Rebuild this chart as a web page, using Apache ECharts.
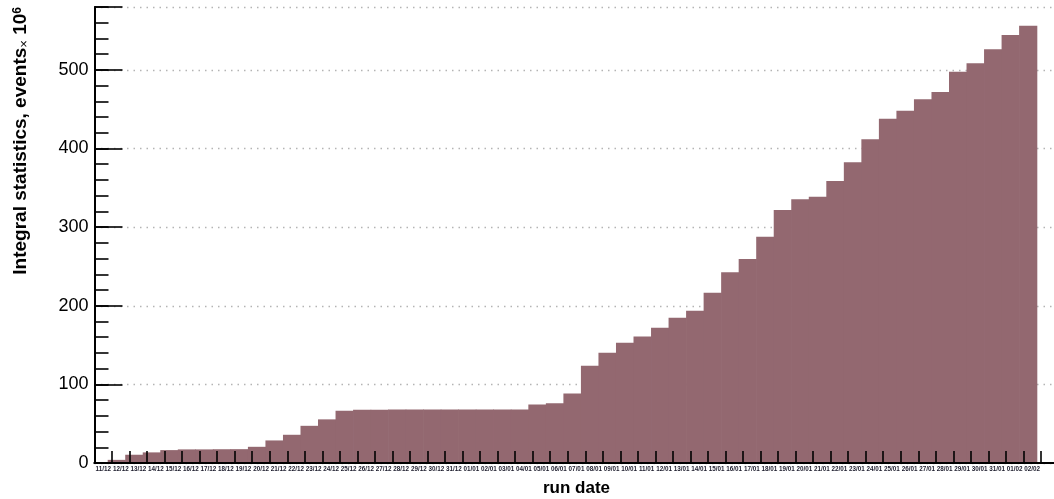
<!DOCTYPE html>
<html>
<head>
<meta charset="utf-8">
<script src="https://cdn.jsdelivr.net/npm/echarts@6/dist/echarts.min.js"></script>
<style>
  html, body { margin: 0; padding: 0; background: #ffffff; }
  #chart { width: 1054px; height: 499px; }
</style>
</head>
<body>
<div id="chart"></div>
<script>
// Run dates (one bin per day)
const runDates = [
  '11/12', '12/12', '13/12', '14/12', '15/12', '16/12', '17/12', '18/12', '19/12', '20/12',
  '21/12', '22/12', '23/12', '24/12', '25/12', '26/12', '27/12', '28/12', '29/12', '30/12',
  '31/12', '01/01', '02/01', '03/01', '04/01', '05/01', '06/01', '07/01', '08/01', '09/01',
  '10/01', '11/01', '12/01', '13/01', '14/01', '15/01', '16/01', '17/01', '18/01', '19/01',
  '20/01', '21/01', '22/01', '23/01', '24/01', '25/01', '26/01', '27/01', '28/01', '29/01',
  '30/01', '31/01', '01/02', '02/02'
];

// Cumulative number of events, in units of 10^6
const integralEvents = [
  0, 4, 10.5, 13.5, 16.4, 17.3, 17.3, 17.5, 17.6, 20.6,
  28.7, 35.9, 47.3, 55.5, 66.4, 67.7, 67.8, 67.9, 67.9, 68,
  68, 68, 68.1, 68.1, 68.1, 74.5, 76, 88.5, 123.7, 140.2,
  152.9, 161, 172, 184.7, 193.6, 216.5, 242.5, 259.4, 287.8, 321.8,
  335.4, 338.7, 358.7, 382.4, 411.7, 438, 448, 462.6, 471.9, 497.7,
  508.4, 526.2, 544.4, 556.2
];

// Y axis range and tick spacing
const yMin = 0;
const yMax = 580;
const yMajorStep = 100;
const yMinorStep = 20;

const axisTitleY = 'Integral statistics, events';
const axisTitleX = 'run date';

const barColor = '#936870';

const chart = echarts.init(document.getElementById('chart'), null, { renderer: 'canvas' });

// frame grid (axes, ticks, labels) and histogram grid (bins drawn slightly left of the ticks)
const frameGrid = { left: 94.5, top: 7, width: 964, height: 456, containLabel: false, outerBoundsMode: 'none' };
const histGrid = { left: 90.5, top: 7, width: 964, height: 456, containLabel: false, outerBoundsMode: 'none' };

const tickLine = { color: '#000000', width: 1.6 };

const option = {
  animation: false,
  backgroundColor: '#ffffff',
  grid: [frameGrid, histGrid],
  xAxis: [
    {
      gridIndex: 0,
      type: 'category',
      data: runDates,
      max: runDates.length,
      boundaryGap: true,
      position: 'bottom',
      zlevel: 1,
      z: 5,
      name: axisTitleX,
      nameLocation: 'middle',
      nameGap: 17,
      nameTextStyle: {
        fontFamily: 'Liberation Sans',
        fontWeight: 'bold',
        fontSize: 17,
        color: '#000000'
      },
      axisLine: { show: true, lineStyle: { color: '#000000', width: 2 } },
      axisTick: { show: true, inside: true, length: 12, interval: 0, lineStyle: tickLine },
      axisLabel: {
        interval: 0,
        hideOverlap: false,
        margin: 3,
        fontFamily: 'Liberation Sans',
        fontWeight: 'bold',
        fontSize: 6.3,
        color: '#1c1c2c',
        formatter: function (v) { return runDates.indexOf(v) >= 0 ? v : ''; }
      },
      splitLine: { show: false }
    },
    {
      // upper frame line
      gridIndex: 0,
      type: 'category',
      data: runDates,
      max: runDates.length,
      position: 'top',
      zlevel: 1,
      z: 5,
      axisLine: { show: true, lineStyle: { color: '#000000', width: 2 } },
      axisTick: { show: false },
      axisLabel: { show: false },
      splitLine: { show: false }
    },
    {
      // histogram bins
      gridIndex: 1,
      type: 'category',
      data: runDates,
      max: runDates.length,
      boundaryGap: true,
      show: false
    }
  ],
  yAxis: [
    {
      // labels and dotted grid
      gridIndex: 0,
      type: 'value',
      min: yMin,
      max: yMax,
      interval: yMajorStep,
      position: 'left',
      z: 0,
      axisLine: { show: true, lineStyle: { color: '#000000', width: 2 } },
      axisTick: { show: false },
      axisLabel: {
        showMaxLabel: false,
        margin: 6,
        fontFamily: 'Liberation Sans',
        fontSize: 18,
        color: '#000000'
      },
      splitLine: {
        show: true,
        lineStyle: { color: '#b4b4b4', width: 1.3, type: [1.5, 5] }
      }
    },
    {
      // major ticks
      gridIndex: 0,
      type: 'value',
      min: yMin,
      max: yMax,
      interval: yMajorStep,
      position: 'left',
      zlevel: 1,
      z: 5,
      axisLine: { show: false },
      axisTick: { show: true, inside: true, length: 28, lineStyle: tickLine },
      axisLabel: { show: false },
      splitLine: { show: false }
    },
    {
      // minor ticks
      gridIndex: 0,
      type: 'value',
      min: yMin,
      max: yMax,
      interval: yMinorStep,
      position: 'left',
      zlevel: 1,
      z: 5,
      axisLine: { show: false },
      axisTick: { show: true, inside: true, length: 14, lineStyle: tickLine },
      axisLabel: { show: false },
      splitLine: { show: false }
    },
    {
      gridIndex: 1,
      type: 'value',
      min: yMin,
      max: yMax,
      show: false
    }
  ],
  series: [
    {
      type: 'bar',
      xAxisIndex: 2,
      yAxisIndex: 3,
      data: integralEvents,
      barWidth: 18.2,
      barGap: 0,
      z: 2,
      itemStyle: { color: barColor },
      emphasis: { disabled: true }
    }
  ],
  graphic: [
    {
      type: 'text',
      x: 21,
      y: 7,
      rotation: Math.PI / 2,
      silent: true,
      style: {
        text: axisTitleY + '{x|×} 10{s|6}',
        align: 'right',
        verticalAlign: 'middle',
        fontFamily: 'Liberation Sans',
        fontWeight: 'bold',
        fontSize: 19,
        fill: '#000000',
        rich: {
          x: { fontFamily: 'Liberation Sans', fontSize: 13, fontWeight: 'normal', fill: '#000000', verticalAlign: 'bottom' },
          s: { fontFamily: 'Liberation Sans', fontSize: 12, fontWeight: 'bold', fill: '#000000', verticalAlign: 'top' }
        }
      }
    }
  ]
};

chart.setOption(option);
</script>
</body>
</html>
